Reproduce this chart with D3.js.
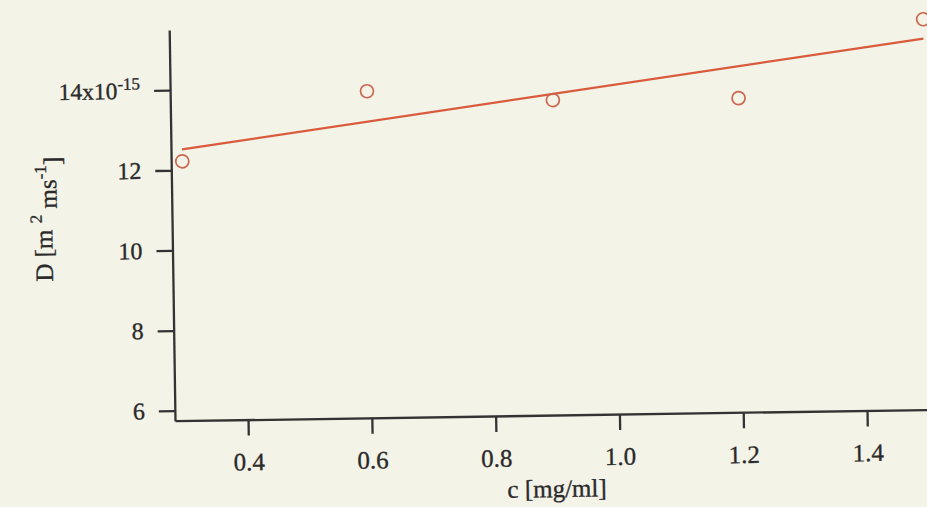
<!DOCTYPE html>
<html>
<head>
<meta charset="utf-8">
<script src="https://cdn.jsdelivr.net/npm/d3@7"></script>
<style>
  html, body { margin: 0; padding: 0; background: #f4f3e8; }
  svg { display: block; font-family: "Liberation Serif", "Times New Roman", serif; }
  svg text { stroke: #2a2a2a; stroke-width: 0.35px; }
</style>
</head>
<body>
<div id="chart-area"></div>
<script>
// measured concentrations and diffusion coefficients (x1e-15 m^2/ms)
const concentration = [0.3, 0.6, 0.9, 1.2, 1.5];
const diffusion = [12.22, 13.90, 13.61, 13.59, 15.49];

const xTicks = [0.4, 0.6, 0.8, 1.0, 1.2, 1.4];
const yTicks = [6, 8, 10, 12, 14];

const canvasWidth = 927;
const canvasHeight = 507;
const margin = {left: 175, top: 30};
const chartWidth = 754;
const chartHeight = 390.7;

const inkColor = "#333333";
const fitColor = "#d95a3c";
const pointColor = "#cc6650";

const canvas = d3.select("#chart-area").append("svg")
  .attr("width", canvasWidth)
  .attr("height", canvasHeight);

// the scanned figure is slightly tilted, so the plot group is rotated a little
const chartGroup = canvas.append("g")
  .attr("transform", `rotate(-0.85, ${margin.left}, ${margin.top + chartHeight}) translate(${margin.left}, ${margin.top})`);

const xScale = d3.scaleLinear().domain([0.282, 1.5]).range([0, chartWidth]);
const yScale = d3.scaleLinear().domain([5.75, 15.5]).range([chartHeight, 0]);

const xAxis = d3.axisBottom(xScale)
  .tickValues(xTicks)
  .tickSizeInner(16)
  .tickSizeOuter(0)
  .tickPadding(17)
  .tickFormat(d3.format(".1f"));

const yAxis = d3.axisLeft(yScale)
  .tickValues(yTicks)
  .tickSizeInner(16)
  .tickSizeOuter(0)
  .tickPadding(14)
  .tickFormat(d => d);

const xAxisGroup = chartGroup.append("g")
  .attr("transform", `translate(0, ${chartHeight})`)
  .call(xAxis);

const yAxisGroup = chartGroup.append("g").call(yAxis);

[xAxisGroup, yAxisGroup].forEach(g => {
  g.attr("font-family", null).attr("font-size", null);
  g.select(".domain").attr("stroke", inkColor).attr("stroke-width", 2.3);
  g.selectAll(".tick line").attr("stroke", inkColor).attr("stroke-width", 2.3);
  g.selectAll(".tick text").attr("fill", "#2a2a2a").style("font-size", "25px");
});
yAxisGroup.selectAll(".tick text").style("font-size", "24px");

// the top tick carries the exponent
yAxisGroup.selectAll(".tick text")
  .filter(d => d === 14)
  .text(null)
  .call(t => {
    t.append("tspan").style("font-size", "23.5px").text("14x10");
    t.append("tspan").attr("dy", "-0.55em").style("font-size", "17px").text("-15");
  });

// least squares fit through the measured points
const meanX = d3.mean(concentration);
const meanY = d3.mean(diffusion);
const slope = d3.sum(concentration, (c, i) => (c - meanX) * (diffusion[i] - meanY)) /
  d3.sum(concentration, c => (c - meanX) ** 2);
const intercept = meanY - slope * meanX;
const fitExtent = d3.extent(concentration);

chartGroup.append("path")
  .datum(fitExtent)
  .attr("fill", "none")
  .attr("stroke", fitColor)
  .attr("stroke-width", 2.3)
  .attr("d", d3.line().x(c => xScale(c)).y(c => yScale(intercept + slope * c)));

chartGroup.selectAll("circle")
  .data(concentration)
  .enter()
  .append("circle")
  .attr("cx", d => xScale(d))
  .attr("cy", (d, i) => yScale(diffusion[i]))
  .attr("r", 6.5)
  .attr("fill", "none")
  .attr("stroke", pointColor)
  .attr("stroke-width", 1.7);

// axis titles
chartGroup.append("text")
  .attr("x", 381)
  .attr("y", chartHeight + 82)
  .attr("text-anchor", "middle")
  .attr("fill", "#2a2a2a")
  .style("font-size", "25px")
  .text("c [mg/ml]");

const yTitle = chartGroup.append("text")
  .attr("transform", `translate(-120, ${chartHeight / 2 - 8}) rotate(-90)`)
  .attr("text-anchor", "middle")
  .attr("fill", "#2a2a2a")
  .style("font-size", "25px");
yTitle.append("tspan").text("D [m ");
yTitle.append("tspan").attr("dy", "-0.6em").style("font-size", "17px").text("2");
yTitle.append("tspan").attr("dy", "0.6em").text(" ms");
yTitle.append("tspan").attr("dy", "-0.6em").style("font-size", "17px").text("-1");
yTitle.append("tspan").attr("dy", "0.6em").text("]");
</script>
</body>
</html>
